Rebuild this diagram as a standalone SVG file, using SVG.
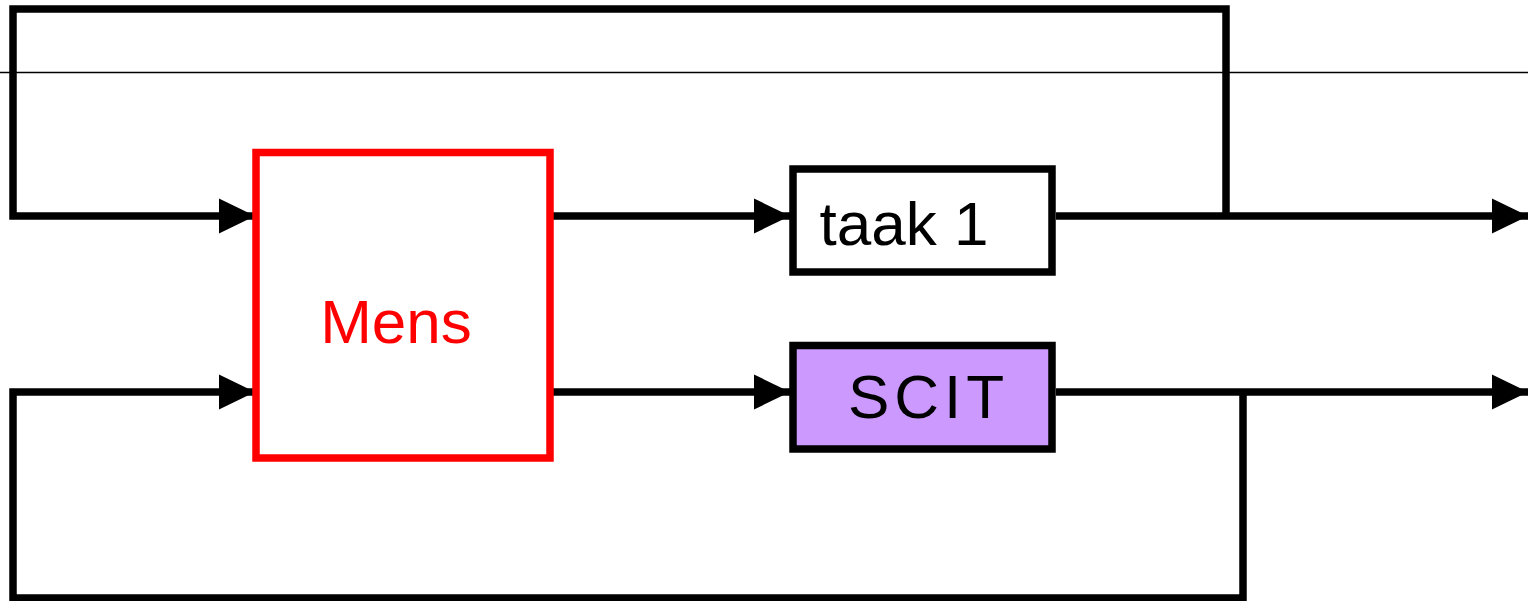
<svg xmlns="http://www.w3.org/2000/svg" width="1528" height="601" viewBox="0 0 1528 601">
  <style>
    .wire { fill: none; stroke: #000; stroke-width: 7.5; stroke-linejoin: miter; }
    .box { stroke-width: 7.5; }
    .label { font-family: 'Comic Sans MS', 'Liberation Sans', sans-serif; font-size: 62px; text-anchor: middle; }
  </style>
  <defs>
    <marker id="arrow" markerUnits="userSpaceOnUse" markerWidth="38" markerHeight="38" refX="36" refY="18" orient="auto">
      <path d="M0,0.5 L36,18 L0,35.5 Z" fill="#000"/>
    </marker>
  </defs>

  <rect width="1528" height="601" fill="#fff"/>

  <!-- thin horizontal rule -->
  <line x1="0" y1="72.5" x2="1528" y2="72.5" stroke="#000" stroke-width="1.5"/>

  <g id="connectors">
    <!-- feedback loop over the top: taak 1 output back to Mens -->
    <path class="wire" d="M1226,216 V9 H13 V216 H255" marker-end="url(#arrow)"/>
    <!-- feedback loop under the bottom: SCIT output back to Mens -->
    <path class="wire" d="M1243,392 V598 H13 V392 H255" marker-end="url(#arrow)"/>
    <!-- Mens to taak 1 -->
    <path class="wire" d="M550,216 H790" marker-end="url(#arrow)"/>
    <!-- Mens to SCIT -->
    <path class="wire" d="M550,392 H790" marker-end="url(#arrow)"/>
    <!-- outputs -->
    <path class="wire" d="M1056,216 H1528" marker-end="url(#arrow)"/>
    <path class="wire" d="M1056,392 H1528" marker-end="url(#arrow)"/>
  </g>

  <g id="mens">
    <rect class="box" x="256" y="152.5" width="294" height="305.5" fill="#fff" stroke="#ff0000" stroke-width="8"/>
    <text class="label" x="396" y="343" fill="#ff0000">Mens</text>
  </g>

  <g id="taak1">
    <rect class="box" x="793" y="169" width="259" height="103" fill="#fff" stroke="#000"/>
    <text class="label" x="904" y="245" fill="#000">taak 1</text>
  </g>

  <g id="scit">
    <rect class="box" x="793" y="345.5" width="259" height="103.5" fill="#cc99ff" stroke="#000"/>
    <text class="label" x="926" y="418" fill="#000" textLength="156">SCIT</text>
  </g>
</svg>
